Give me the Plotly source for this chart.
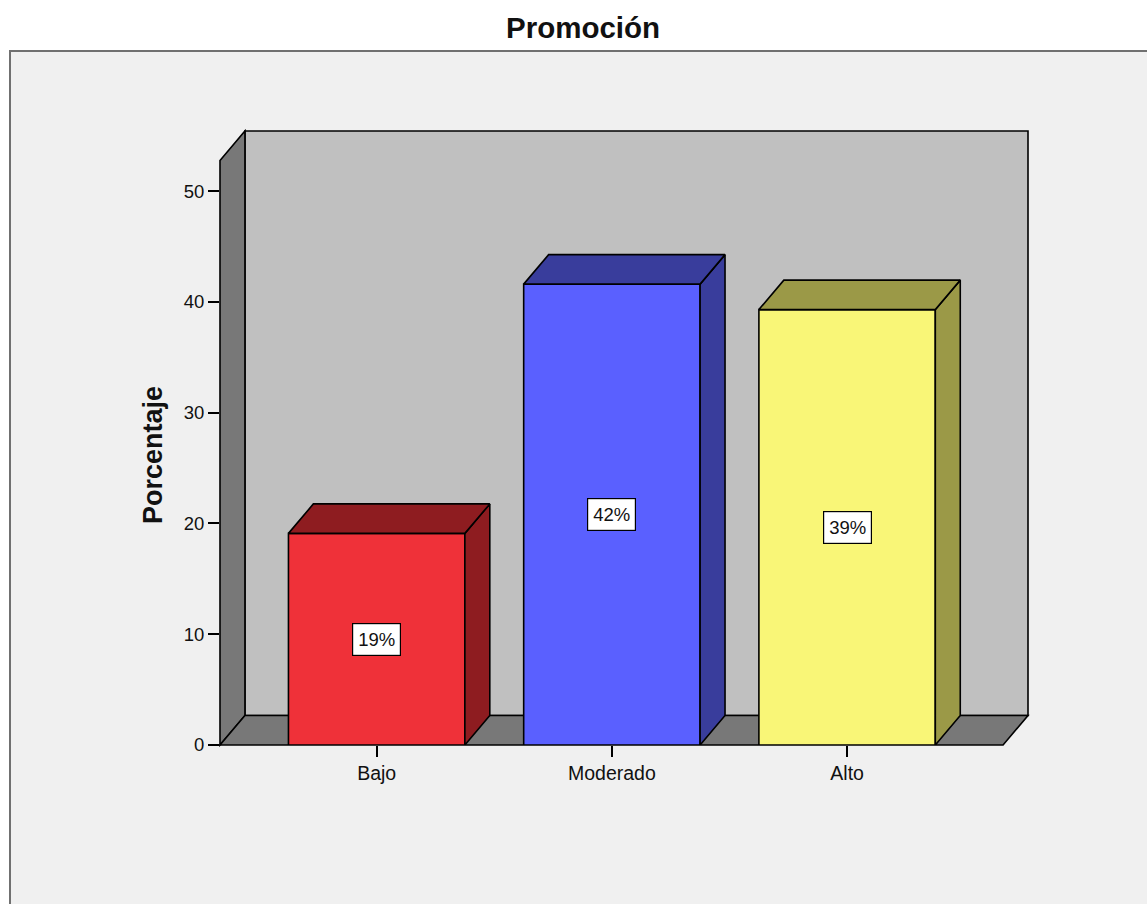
import plotly.graph_objects as go

# Category data
categories = ["Bajo", "Moderado", "Alto"]
percentages = [19.1, 41.6, 39.3]
front_colors = ["#EF3139", "#5A60FF", "#F9F677"]
shade_colors = ["#8E1C20", "#393D9C", "#9B9947"]
y_tick_values = [0, 10, 20, 30, 40, 50]

# Figure geometry
W, H = 1147, 904
M_L, M_R, M_T, M_B = 220, 119, 131, 159
X_MIN, X_MAX = -0.666, 2.769          # category axis range
Y_MIN, Y_MAX = 0.0, 55.42              # percentage axis range
BAR_W = 0.75
DX, DY = 0.106, 2.66                   # pseudo-3D depth offset (axis units)
FONT = "Liberation Sans, Arial, sans-serif"


def to_paper_x(x):
    return (x - X_MIN) / (X_MAX - X_MIN)


def to_paper_y(y):
    return (y - Y_MIN) / (Y_MAX - Y_MIN)


def px_x(p):
    return (p - M_L) / (W - M_L - M_R)


def px_y(p):
    return (H - M_B - p) / (H - M_T - M_B)


def paper_path(points):
    pts = [(to_paper_x(x), to_paper_y(y)) for x, y in points]
    return "M " + " L ".join(f"{a:.5f},{b:.5f}" for a, b in pts) + " Z"


fig = go.Figure()

# Front faces of the bars
fig.add_trace(go.Bar(
    x=list(range(len(categories))),
    y=percentages,
    width=BAR_W,
    marker=dict(color=front_colors, line=dict(color="black", width=1.6)),
    cliponaxis=False,
    hoverinfo="skip",
    showlegend=False,
))

# Top and side faces giving the bars depth
for i, (v, shade) in enumerate(zip(percentages, shade_colors)):
    x0, x1 = i - BAR_W / 2, i + BAR_W / 2
    side_x = [x1, x1 + DX, x1 + DX, x1, x1]
    side_y = [0, DY, v + DY, v, 0]
    top_x = [x0, x0 + DX, x1 + DX, x1, x0]
    top_y = [v, v + DY, v + DY, v, v]
    for fx, fy in ((side_x, side_y), (top_x, top_y)):
        fig.add_trace(go.Scatter(
            x=fx, y=fy, mode="lines", fill="toself", fillcolor=shade,
            line=dict(color="black", width=1.6),
            cliponaxis=False, hoverinfo="skip", showlegend=False,
        ))

# Percentage labels in the middle of each bar
annotations = []
for i, v in enumerate(percentages):
    annotations.append(dict(
        x=i, y=v / 2, xref="x", yref="y", text=f"{v:.0f}%",
        showarrow=False, bgcolor="white", bordercolor="black",
        borderwidth=1.2, borderpad=5,
        font=dict(family=FONT, size=18.5, color="#111"),
    ))

# Chart title and axis title
annotations.append(dict(
    x=px_x(583), y=px_y(28), xref="paper", yref="paper", text="<b>Promoción</b>",
    xanchor="center", yanchor="middle",
    showarrow=False, font=dict(family=FONT, size=29.5, color="#111"),
))
annotations.append(dict(
    x=px_x(153), y=px_y(455), xref="paper", yref="paper", text="<b>Porcentaje</b>",
    xanchor="center", yanchor="middle",
    showarrow=False, textangle=-90, font=dict(family=FONT, size=27, color="#111"),
))

# Outer frame, walls and floor of the chart box
shapes = [
    dict(type="rect", xref="paper", yref="paper", layer="below",
         x0=px_x(10), x1=px_x(1160), y0=px_y(51), y1=px_y(920),
         fillcolor="#F0F0F0", line=dict(color="#707070", width=2)),
    dict(type="path", xref="paper", yref="paper", layer="below",
         path=paper_path([(X_MIN + DX, DY), (X_MAX, DY), (X_MAX, Y_MAX), (X_MIN + DX, Y_MAX)]),
         fillcolor="#C0C0C0", line=dict(color="black", width=1.6)),
    dict(type="path", xref="paper", yref="paper", layer="below",
         path=paper_path([(X_MIN, 0), (X_MIN + DX, DY), (X_MIN + DX, Y_MAX), (X_MIN, Y_MAX - DY)]),
         fillcolor="#787878", line=dict(color="black", width=1.6)),
    dict(type="path", xref="paper", yref="paper", layer="below",
         path=paper_path([(X_MIN, 0), (X_MAX - DX, 0), (X_MAX, DY), (X_MIN + DX, DY)]),
         fillcolor="#787878", line=dict(color="black", width=1.6)),
]

fig.update_layout(
    width=W, height=H, autosize=False,
    margin=dict(l=M_L, r=M_R, t=M_T, b=M_B, pad=0),
    paper_bgcolor="white", plot_bgcolor="rgba(0,0,0,0)",
    shapes=shapes, annotations=annotations,
    xaxis=dict(
        range=[X_MIN, X_MAX], tickvals=list(range(len(categories))), ticktext=categories,
        ticks="outside", ticklen=11, tickwidth=1.5, tickcolor="black",
        showgrid=False, zeroline=False, showline=False, fixedrange=True,
        tickfont=dict(family=FONT, size=19.5, color="#111"),
    ),
    yaxis=dict(
        range=[Y_MIN, Y_MAX], tickvals=y_tick_values,
        ticks="outside", ticklen=11, tickwidth=1.5, tickcolor="black",
        showgrid=False, zeroline=False, showline=False, fixedrange=True,
        tickfont=dict(family=FONT, size=18.5, color="#111"),
    ),
)

fig.write_html("out.html")
